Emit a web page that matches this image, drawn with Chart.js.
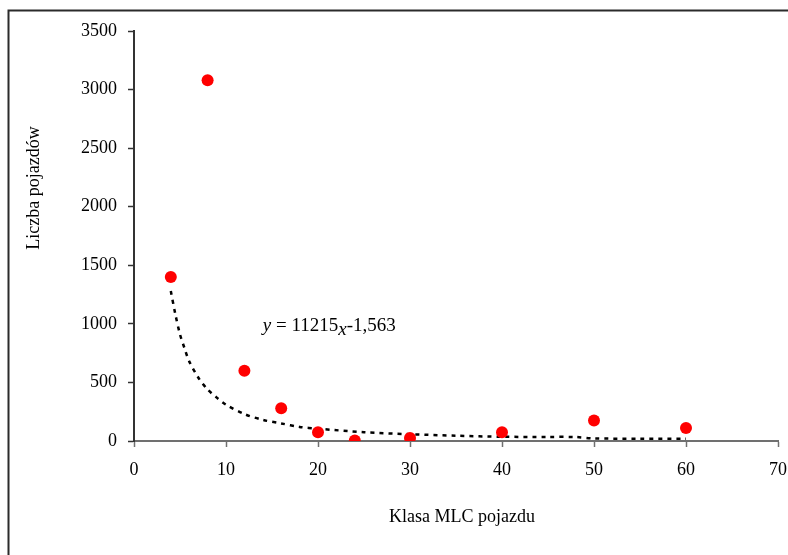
<!DOCTYPE html>
<html>
<head>
<meta charset="utf-8">
<script src="https://cdn.jsdelivr.net/npm/chart.js@4"></script>
<style>
  html, body { margin: 0; padding: 0; background: #fff; }
  #wrap { width: 788px; height: 555px; }
</style>
</head>
<body>
<div id="wrap"><canvas id="chart" width="788" height="555"></canvas></div>
<script>
// Observed data (klasa MLC vs liczba pojazdow)
const mlcClasses = [4, 8, 12, 16, 20, 24, 30, 40, 50, 60];
const vehicleCounts = [1400, 3080, 600, 280, 75, 5, 25, 75, 175, 110];

// Trend line
const trendX = [4, 4.5, 5, 5.5, 6, 7, 8, 9, 10, 12, 14, 16, 18, 20, 25, 30, 35, 40, 45, 48, 50, 55, 60];
const trendY = [1280, 1080, 910, 790, 680, 540, 440, 370, 310, 230, 180, 150, 120, 105, 75, 58, 45, 36, 35, 34, 22, 20, 19];

const xTicks = [0, 10, 20, 30, 40, 50, 60, 70];
const yTicks = [0, 500, 1000, 1500, 2000, 2500, 3000, 3500];

const serif = '"Liberation Serif", "Times New Roman", serif';

// Frame, axis titles and the equation label
const decorPlugin = {
  id: 'decor',
  afterDraw(chart) {
    const ctx = chart.ctx;
    const xs = chart.scales.x, ys = chart.scales.y;
    ctx.save();
    ctx.strokeStyle = '#2b2b2b';
    ctx.lineWidth = 2;
    ctx.beginPath();
    ctx.moveTo(8.5, 555);
    ctx.lineTo(8.5, 10.5);
    ctx.lineTo(788, 10.5);
    ctx.stroke();

    ctx.fillStyle = '#000';
    ctx.font = '18px ' + serif;
    ctx.textAlign = 'center';
    ctx.textBaseline = 'middle';
    ctx.fillText('Klasa MLC pojazdu', 462, 517);

    ctx.translate(34, 188);
    ctx.rotate(-Math.PI / 2);
    ctx.fillText('Liczba pojazdów', 0, 0);
    ctx.restore();

    // equation y = 11215x-1,563
    ctx.save();
    ctx.fillStyle = '#000';
    ctx.textBaseline = 'alphabetic';
    ctx.textAlign = 'left';
    let px = xs.getPixelForValue(14);
    const base = ys.getPixelForValue(940);
    const parts = [
      ['italic 19px ' + serif, 'y', 0],
      ['19px ' + serif, ' = 11215', 0],
      ['italic 19px ' + serif, 'x', 4],
      ['19px ' + serif, '-1,563', 0]
    ];
    parts.forEach(([font, txt, dy]) => {
      ctx.font = font;
      ctx.fillText(txt, px, base + dy);
      px += ctx.measureText(txt).width;
    });
    ctx.restore();
  }
};

new Chart(document.getElementById('chart'), {
  type: 'scatter',
  data: {
    datasets: [
      {
        label: 'Liczba pojazdów',
        data: mlcClasses.map((x, i) => ({ x: x, y: vehicleCounts[i] })),
        backgroundColor: '#ff0000',
        borderWidth: 0,
        pointRadius: 6,
        pointHoverRadius: 6,
        order: 0
      },
      {
        label: 'Trend',
        data: trendX.map((x, i) => ({ x: x, y: trendY[i] })),
        showLine: true,
        borderColor: '#000',
        borderWidth: 2.5,
        borderDash: [4, 5],
        pointRadius: 0,
        tension: 0.3,
        fill: false,
        order: 1
      }
    ]
  },
  options: {
    responsive: false,
    animation: false,
    layout: { padding: { top: 31, right: 10, bottom: 0, left: 0 } },
    plugins: {
      legend: { display: false },
      tooltip: { enabled: false }
    },
    scales: {
      x: {
        type: 'linear',
        min: 0,
        max: 70,
        afterBuildTicks(scale) { scale.ticks = xTicks.map(v => ({ value: v })); },
        afterFit(scale) {
          scale.height = 114;
          scale.paddingLeft = 0;
          scale.paddingRight = 0;
        },
        grid: { drawOnChartArea: false, tickLength: 6, tickColor: '#707070', tickWidth: 1.5 },
        border: { color: '#707070', width: 2 },
        ticks: { color: '#000', padding: 12, maxRotation: 0, callback: v => String(v), font: { family: serif, size: 18 } }
      },
      y: {
        min: 0,
        max: 3500,
        afterBuildTicks(scale) { scale.ticks = yTicks.map(v => ({ value: v })); },
        afterFit(scale) {
          scale.width = 134;
          scale.paddingTop = 0;
          scale.paddingBottom = 0;
        },
        grid: { drawOnChartArea: false, tickLength: 6, tickColor: '#333', tickWidth: 1.5 },
        border: { color: '#333', width: 2 },
        ticks: { color: '#000', padding: 11, callback: v => String(v), font: { family: serif, size: 18 } }
      }
    }
  },
  plugins: [decorPlugin]
});
</script>
</body>
</html>
